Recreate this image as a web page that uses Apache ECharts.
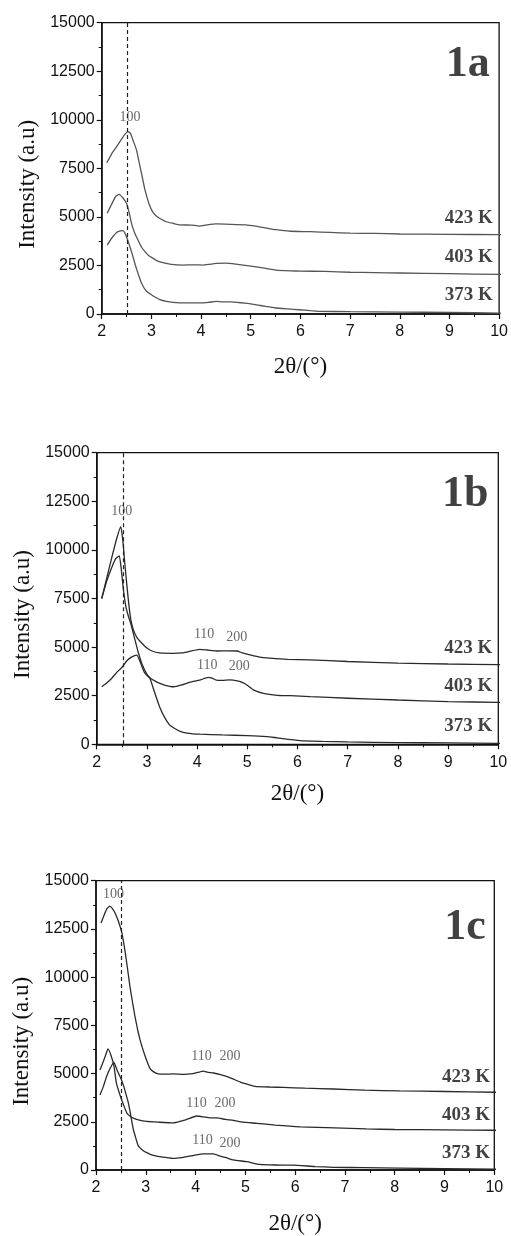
<!DOCTYPE html>
<html>
<head>
<meta charset="utf-8">
<script src="https://cdn.jsdelivr.net/npm/echarts@6/dist/echarts.min.js"></script>
<style>
  body { margin: 0; background: #fff; }
  #graph { width: 511px; height: 1236px; }
</style>
</head>
<body>
<div id="graph"></div>
<script>
// x ticks, y ticks
var xTicks = [2, 3, 4, 5, 6, 7, 8, 9, 10];
var yTicks = [0, 2500, 5000, 7500, 10000, 12500, 15000];
var temps = ['423 K', '403 K', '373 K'];

// panel 1a  [2theta, intensity]
var a423 = [[2.1,7790],[2.15,8000],[2.2,8250],[2.3,8620],[2.4,9000],[2.45,9200],[2.53,9390],[2.58,9300],[2.63,8950],[2.7,8450],[2.75,7850],[2.8,7250],[2.87,6400],[2.93,5850],[2.97,5550],[3.03,5250],[3.1,5050],[3.2,4880],[3.3,4750],[3.45,4660],[3.57,4590],[3.8,4580],[3.97,4530],[4.1,4580],[4.3,4640],[4.6,4620],[4.9,4590],[5.1,4520],[5.3,4430],[5.5,4340],[5.8,4260],[6.2,4240],[6.6,4200],[7.0,4160],[7.5,4150],[8.0,4120],[9.0,4100],[10.0,4090],[10.17,4090]];
var a403 = [[2.11,5190],[2.2,5650],[2.28,6050],[2.35,6160],[2.42,6000],[2.5,5700],[2.55,5250],[2.6,4670],[2.66,4200],[2.73,3810],[2.8,3450],[2.87,3210],[2.95,3000],[3.03,2870],[3.13,2720],[3.23,2640],[3.4,2560],[3.63,2520],[3.85,2530],[4.03,2520],[4.15,2550],[4.3,2610],[4.5,2620],[4.7,2570],[5.0,2470],[5.3,2350],[5.5,2260],[5.8,2220],[6.0,2210],[6.5,2190],[7.0,2150],[7.5,2130],[8.0,2110],[9.0,2080],[10.0,2040],[10.17,2040]];
var a373 = [[2.11,3550],[2.2,3900],[2.3,4200],[2.38,4280],[2.43,4290],[2.47,4150],[2.51,3900],[2.57,3450],[2.63,2950],[2.68,2500],[2.73,2100],[2.8,1600],[2.9,1170],[3.0,990],[3.08,860],[3.17,740],[3.3,650],[3.43,600],[3.7,570],[3.97,570],[4.15,600],[4.3,650],[4.45,620],[4.6,620],[4.8,580],[4.97,530],[5.15,460],[5.3,390],[5.5,310],[5.75,260],[5.97,220],[6.2,170],[6.37,140],[7.0,120],[8.0,100],[9.0,80],[10.0,50],[10.17,50]];

// panel 1b
var b423 = [[2.1,7500],[2.2,8550],[2.3,9600],[2.4,10600],[2.48,11200],[2.52,10500],[2.56,9300],[2.6,8200],[2.64,7200],[2.68,6400],[2.73,5900],[2.8,5500],[2.9,5200],[3.0,4950],[3.1,4800],[3.25,4700],[3.5,4680],[3.7,4700],[3.85,4780],[4.05,4880],[4.2,4850],[4.4,4800],[4.6,4810],[4.8,4800],[4.9,4700],[5.05,4600],[5.25,4480],[5.45,4430],[5.8,4370],[6.25,4340],[7.0,4260],[8.0,4180],[9.0,4130],[10.0,4100],[10.07,4100]];
var b403 = [[2.1,2960],[2.2,3150],[2.3,3400],[2.4,3700],[2.5,3950],[2.6,4300],[2.7,4500],[2.8,4590],[2.85,4350],[2.9,4000],[2.95,3700],[3.03,3480],[3.2,3200],[3.35,3050],[3.53,2960],[3.7,3060],[3.86,3200],[4.05,3300],[4.22,3440],[4.3,3400],[4.38,3300],[4.5,3290],[4.65,3310],[4.8,3260],[4.92,3160],[5.02,3000],[5.12,2800],[5.32,2620],[5.6,2520],[5.85,2500],[6.25,2450],[7.0,2370],[8.0,2280],[9.0,2200],[10.0,2160],[10.07,2160]];
var b373 = [[2.1,7500],[2.2,8400],[2.3,9100],[2.38,9550],[2.45,9690],[2.49,9000],[2.53,8000],[2.58,7100],[2.63,6600],[2.68,6200],[2.75,5500],[2.82,4800],[2.9,4150],[3.0,3600],[3.06,3400],[3.15,2700],[3.25,1950],[3.35,1400],[3.45,1000],[3.53,850],[3.65,680],[3.8,580],[4.06,520],[4.5,480],[5.0,450],[5.39,400],[5.6,330],[6.05,190],[6.5,150],[7.0,120],[8.0,90],[9.0,70],[10.0,50],[10.07,50]];

// panel 1c
var c423 = [[2.1,12800],[2.16,13200],[2.22,13550],[2.28,13680],[2.33,13550],[2.38,13340],[2.45,12900],[2.52,12300],[2.58,11400],[2.63,10500],[2.68,9550],[2.73,8750],[2.78,8000],[2.83,7350],[2.88,6800],[2.93,6350],[2.98,5950],[3.03,5600],[3.08,5280],[3.15,5100],[3.25,4980],[3.4,4970],[3.55,4980],[3.75,4960],[3.95,5000],[4.08,5080],[4.15,5130],[4.25,5060],[4.36,5030],[4.5,4950],[4.62,4850],[4.75,4720],[4.9,4560],[5.05,4440],[5.19,4340],[5.5,4300],[5.76,4280],[6.2,4240],[6.77,4200],[7.4,4140],[8.1,4100],[9.0,4070],[10.0,4030],[10.08,4030]];
var c403 = [[2.08,5180],[2.15,5650],[2.2,6000],[2.24,6280],[2.3,5950],[2.36,5400],[2.41,4500],[2.48,3900],[2.55,3400],[2.62,2950],[2.68,2800],[2.75,2690],[2.85,2600],[3.02,2520],[3.25,2480],[3.55,2440],[3.8,2600],[4.02,2800],[4.15,2760],[4.29,2700],[4.42,2700],[4.6,2620],[4.76,2570],[4.95,2480],[5.23,2420],[5.6,2330],[6.1,2240],[6.8,2180],[7.43,2130],[8.0,2100],[9.0,2080],[10.0,2060],[10.08,2060]];
var c373 = [[2.08,3890],[2.15,4350],[2.22,4900],[2.3,5350],[2.36,5580],[2.42,5200],[2.5,4750],[2.55,4400],[2.6,3950],[2.65,3480],[2.7,2800],[2.75,2100],[2.8,1650],[2.85,1250],[2.95,1000],[3.02,900],[3.1,800],[3.22,720],[3.4,650],[3.55,600],[3.75,660],[3.95,750],[4.15,840],[4.36,840],[4.49,720],[4.6,650],[4.76,520],[5.03,430],[5.29,290],[5.6,260],[5.96,250],[6.4,180],[6.77,140],[7.4,120],[8.1,100],[9.0,70],[10.0,40],[10.08,40]];

// dashed reference line (100 reflection) per panel
var refLine = [2.52, 2.53, 2.51];

// reflection labels [2theta, intensity, text]
var aPeaks = [[2.57,10130,'100']];
var bPeaks = [[2.5,11966,'100'],[4.14,5674,'110'],[4.79,5502,'200'],[4.2,4080,'110'],[4.84,3994,'200']];
var cPeaks = [[2.35,14290,'100'],[4.12,5880,'110'],[4.69,5880,'200'],[4.02,3480,'110'],[4.59,3480,'200'],[4.14,1525,'110'],[4.69,1390,'200']];

// temperature labels and panel tags
var aTemps = [[9.39,4937,'423 K'],[9.39,2914,'403 K'],[9.39,960,'373 K']];
var bTemps = [[9.4,4937,'423 K'],[9.4,3000,'403 K'],[9.4,943,'373 K']];
var cTemps = [[9.43,4834,'423 K'],[9.43,2863,'403 K'],[9.43,891,'373 K']];
var tags = [[[9.37,12820,'1a']],[[9.34,12820,'1b']],[[9.41,12560,'1c']]];

var panels = [
  { curves: [a423, a403, a373], peaks: aPeaks, temps: aTemps, color: '#555', xGap: 41 },
  { curves: [b423, b403, b373], peaks: bPeaks, temps: bTemps, color: '#2a2a2a', xGap: 38 },
  { curves: [c423, c403, c373], peaks: cPeaks, temps: cTemps, color: '#2a2a2a', xGap: 42 }
];

var grids = [
  { left: 101.7, right: 9.3, top: 22.7, height: 291.3 },
  { left: 96.7, right: 12.7, top: 452.7, height: 291.6 },
  { left: 96, right: 16.7, top: 880.7, height: 291.6 }
];

var serif = '"Liberation Serif", "DejaVu Serif", serif';
var sans = '"Liberation Sans", Arial, sans-serif';

var chartDom = document.getElementById('graph');
var myChart = echarts.init(chartDom, null, { renderer: 'canvas' });

var xAxes = [], yAxes = [], series = [];

grids.forEach(function (g) {
  g.show = true;
  g.borderColor = '#111';
  g.borderWidth = 1.3;
});

panels.forEach(function (p, i) {
  xAxes.push({
    type: 'value', gridIndex: i, min: xTicks[0], max: xTicks[xTicks.length - 1], interval: 1,
    name: '2θ/(°)', nameLocation: 'middle', nameGap: p.xGap,
    nameTextStyle: { fontFamily: serif, fontSize: 23, color: '#111' },
    axisLine: { onZero: false, lineStyle: { color: '#111', width: 1.5 } },
    axisTick: { length: 5, lineStyle: { color: '#111', width: 1.2 } },
    minorTick: { show: true, splitNumber: 2, length: 3, lineStyle: { color: '#111' } },
    splitLine: { show: false },
    axisLabel: { fontFamily: sans, fontSize: 16, color: '#111', margin: 10 }
  });
  yAxes.push({
    type: 'value', gridIndex: i, min: yTicks[0], max: yTicks[yTicks.length - 1], interval: 2500,
    name: 'Intensity (a.u)', nameLocation: 'middle', nameGap: 56,
    // name sits a bit below the middle of the axis in the original
    nameTextStyle: { fontFamily: serif, fontSize: 23, color: '#111', padding: [0, 32, 0, 0] },
    axisLine: { lineStyle: { color: '#111', width: 1.5 } },
    axisTick: { show: true, length: 5, lineStyle: { color: '#111', width: 1.2 } },
    minorTick: { show: true, splitNumber: 2, length: 3, lineStyle: { color: '#111' } },
    splitLine: { show: false },
    axisLabel: { fontFamily: sans, fontSize: 16, color: '#111', margin: 7, formatter: function (v) { return String(v); } }
  });

  p.curves.forEach(function (c, k) {
    var s = {
      name: temps[k] + ' ' + i,
      type: 'line', xAxisIndex: i, yAxisIndex: i,
      data: c, showSymbol: false, smooth: 0.15, clip: false,
      lineStyle: { color: p.color, width: 1.3 },
      silent: true, animation: false
    };
    if (k === 0) {
      s.markLine = {
        silent: true, symbol: 'none', animation: false,
        label: { show: false },
        lineStyle: { type: [4, 3], color: '#222', width: 1.2 },
        data: [{ xAxis: refLine[i] }]
      };
    }
    series.push(s);
  });

  // text annotations placed in data coordinates
  var txt = function (data, style) {
    series.push({
      type: 'scatter', xAxisIndex: i, yAxisIndex: i, symbolSize: 0,
      data: data, silent: true, animation: false, clip: false,
      label: Object.assign({ show: true, position: 'inside', formatter: function (q) { return q.data[2]; } }, style)
    });
  };
  txt(p.peaks, { fontFamily: serif, fontSize: 14, color: '#444' });
  txt(p.temps, { fontFamily: serif, fontSize: 19, fontWeight: 'bold', color: '#111' });
  txt(tags[i], { fontFamily: serif, fontSize: 44, fontWeight: 'bold', color: '#111' });
});

var option = {
  backgroundColor: '#fff',
  animation: false,
  grid: grids,
  xAxis: xAxes,
  yAxis: yAxes,
  series: series
};

option && myChart.setOption(option);
</script>
</body>
</html>
